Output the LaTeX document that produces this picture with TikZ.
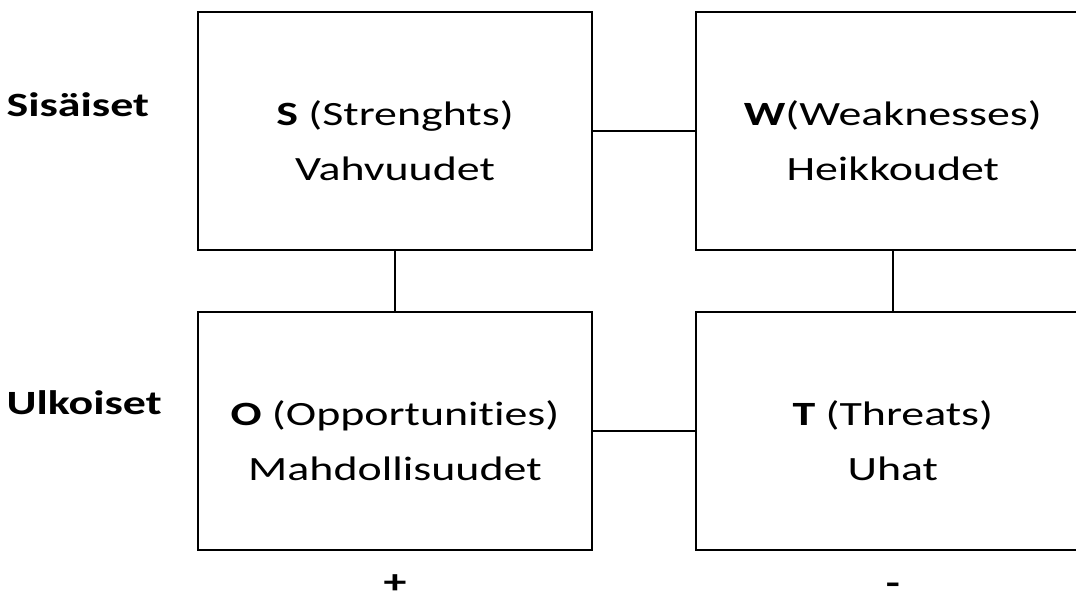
\documentclass[tikz,border=0pt]{standalone}
\usepackage{fontspec}
\setmainfont{Carlito}[FakeStretch=1.35, Ligatures=NoCommon]
\usetikzlibrary{positioning}

\begin{document}
\begin{tikzpicture}[font=\fontsize{34}{55}\selectfont]
    % Styles:
    \tikzset{swotbox/.style={draw, line width=1.8pt, minimum width=394pt, minimum height=238pt}}
    \tikzset{swottext/.style={align=center, inner sep=0pt}}
    \tikzset{sidelabel/.style={inner sep=0pt, font=\fontsize{34}{40}\selectfont\bfseries}}
    \tikzset{node distance = 60pt and 102pt}

    \useasboundingbox (0,0) rectangle (1076pt,-595pt);

    % Main nodes:
    \node[swotbox] (s) at (395pt,-131pt) {};
    \node[swotbox] (w) [right = of s] {};
    \node[swotbox] (o) [below = of s] {};
    \node[swotbox] (t) [right = of o] {};

    % Box texts:
    \node[swottext] (stext) at ([yshift=-10pt]s.center) {\textbf{S} (Strenghts)\\Vahvuudet};
    \node[swottext] (wtext) at ([yshift=-10pt]w.center) {\textbf{W}(Weaknesses)\\Heikkoudet};
    \node[swottext] (otext) at ([yshift=-10pt]o.center) {\textbf{O} (Opportunities)\\Mahdollisuudet};
    \node[swottext] (ttext) at ([yshift=-10pt]t.center) {\textbf{T} (Threats)\\Uhat};

    % Side labels:
    \node[sidelabel] (sis) [left = 48pt of s.west, yshift=26pt] {Sisäiset};
    \node[sidelabel] (ulk) [below = 298pt of sis.west, anchor=west] {Ulkoiset};
    \node[sidelabel] (plus)  [below = 33pt of o.south, anchor=center] {+};
    \node[sidelabel] (minus) [below = 38pt of t.south, anchor=center] {-};

    % Connectors:
    \draw[line width=1.6pt] (s) -- (w);
    \draw[line width=1.6pt] (o) -- (t);
    \draw[line width=1.6pt] (s) -- (o);
    \draw[line width=1.6pt] (w) -- (t);
\end{tikzpicture}
\end{document}
